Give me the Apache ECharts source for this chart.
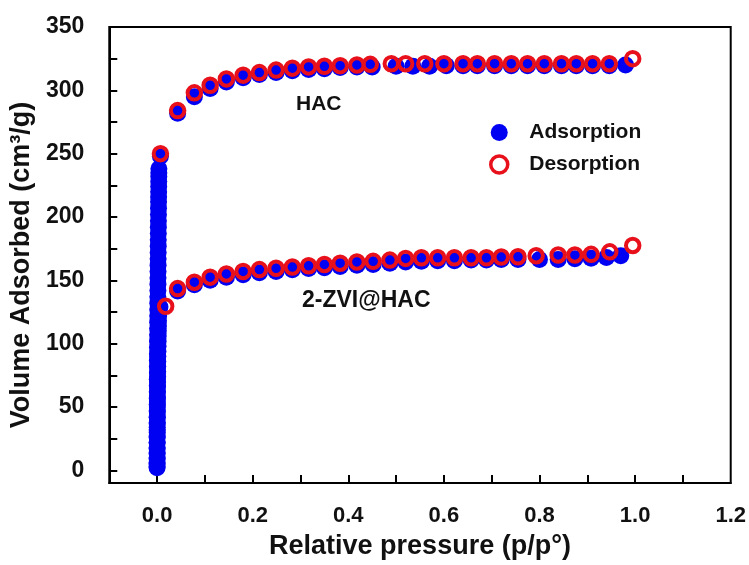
<!DOCTYPE html>
<html>
<head>
<meta charset="utf-8">
<script src="https://cdn.jsdelivr.net/npm/echarts@6/dist/echarts.min.js"></script>
<style>
html,body{margin:0;padding:0;background:#fff;}
#chart{width:749px;height:565px;}
</style>
</head>
<body>
<div id="chart"></div>
<script>
// ---- data ----
const xLabelValues = [0, 0.2, 0.4, 0.6, 0.8, 1.0, 1.2];
const xTickValues = [0, 0.1, 0.2, 0.3, 0.4, 0.5, 0.6, 0.7, 0.8, 0.9, 1.0, 1.1];
const yLabelValues = [0, 50, 100, 150, 200, 250, 300, 350];
const yTickValues = [0, 25, 50, 75, 100, 125, 150, 175, 200, 225, 250, 275, 300, 325];

// HAC adsorption (relative pressure, volume)
const hacAdsP = [0.0000,0.0000,0.0001,0.0001,0.0001,0.0001,0.0002,0.0002,0.0002,0.0003,0.0003,0.0003,0.0004,0.0004,0.0005,0.0005,0.0006,0.0006,0.0007,0.0007,0.0008,0.0009,0.0010,0.0011,0.0012,0.0013,0.0014,0.0015,0.0016,0.0017,0.0018,0.0019,0.0020,0.0021,0.0022,0.0023,0.0024,0.0025,0.0026,0.0027,0.0028,0.0029,0.0030,0.0031,0.0032,0.0033,0.0034,0.0035,0.0036,0.0037,0.0038,
  0.007,0.043,0.078,0.111,0.145,0.180,0.214,0.249,0.283,0.317,0.350,0.383,0.418,0.450,0.500,0.535,0.570,0.605,0.640,0.670,0.706,0.741,0.775,0.810,0.846,0.877,0.911,0.946,0.980];
const hacAdsV = [2,5,9,13,17,22,27,32,37,42,47,52,57,62,67,72,77,82,87,92,97,102,107,112,117,122,127,132,137,142,147,152,157,162,167,172,177,182,187,192,197,202,207,212,216,220,224,228,232,235,238,
  248,282,295,301.5,306.5,310,312.5,314,315.5,316.5,317,318,318.5,318.5,319,319,319,319.5,319.5,319.5,319.5,319.5,319.5,319.5,319.5,319.5,319.5,319.5,320];

// HAC desorption
const hacDesP = [0.995,0.946,0.911,0.877,0.846,0.810,0.775,0.741,0.706,0.670,0.640,0.600,0.560,0.520,0.490,0.446,0.418,0.383,0.350,0.317,0.283,0.249,0.214,0.180,0.145,0.111,0.078,0.043,0.007];
const hacDesV = [325,321,321,321,321,321,321,321,321,321,321,321,321,321,321,320.5,320,319.5,319,318.5,317.5,316,314,312,309,304,298,284,250];

// 2-ZVI@HAC adsorption
const zviAdsP = [0.0000,0.0000,0.0001,0.0001,0.0001,0.0002,0.0002,0.0003,0.0003,0.0004,0.0004,0.0005,0.0006,0.0007,0.0008,0.0009,0.0010,0.0011,0.0012,0.0013,0.0014,0.0015,0.0016,0.0018,0.0020,0.0022,0.0024,0.0026,0.0028,0.0030,0.0033,0.0036,
  0.006,0.043,0.078,0.111,0.145,0.180,0.214,0.249,0.283,0.317,0.350,0.383,0.418,0.452,0.487,0.520,0.553,0.587,0.622,0.657,0.689,0.720,0.755,0.800,0.839,0.874,0.908,0.940,0.970];
const zviAdsV = [3,6,10,14,18,22,26,30,34,38,42,46,50,54,58,62,66,70,74,78,82,86,90,94,98,102,106,110,114,118,122,126,
  129,141.5,146.5,150,152.5,154.5,156,157,158.3,159.3,160,161,162,162.5,163.5,164.5,165,165.5,165.5,166,166,166.5,166.5,166.5,166.5,167,167.5,168,169.5];

// 2-ZVI@HAC desorption
const zviDesP = [0.995,0.947,0.908,0.874,0.839,0.793,0.755,0.720,0.689,0.657,0.622,0.587,0.553,0.520,0.487,0.452,0.418,0.383,0.350,0.317,0.283,0.249,0.214,0.180,0.145,0.111,0.078,0.043,0.018];
const zviDesV = [177.5,172.5,170.5,170,170,169.4,168.6,168.4,167.8,167.8,167.8,167.8,167.8,167.3,166,165,164.5,163.5,162.5,161.5,160.5,159.5,158.5,157,155,152.5,148.5,143.5,129.5];

// ---- build ----
function pairs(p, v) {
  const out = [];
  const n = Math.min(p.length, v.length);
  for (let i = 0; i < n; i++) out.push([p[i], v[i]]);
  return out;
}

const FONT = "'Liberation Sans', Arial, Helvetica, sans-serif";
const BLUE = '#0000f2';
const RED = '#e8101a';
const TXT = '#111';

const adsStyle = { color: BLUE, opacity: 1 };
const desStyle = { color: 'rgba(255,255,255,0)', borderColor: RED, borderWidth: 4, opacity: 1 };

const chart = echarts.init(document.getElementById('chart'), null, { renderer: 'canvas' });
chart.setOption({
  animation: false,
  backgroundColor: '#fff',
  grid: { left: 108, right: 14, top: 27, bottom: 80, show: true, borderColor: '#000', borderWidth: 2, backgroundColor: 'transparent' },
  legend: {
    orient: 'vertical',
    left: 484, top: 117,
    itemWidth: 50, itemHeight: 17, itemGap: 11,
    symbolKeepAspect: true,
    textStyle: { fontFamily: FONT, fontWeight: 'bold', fontSize: 21, color: TXT, lineHeight: 20 },
    data: [
      { name: 'Adsorption', icon: 'circle', itemStyle: { color: BLUE, borderWidth: 0, opacity: 1 } },
      { name: 'Desorption', icon: 'circle', itemStyle: { color: '#fff', borderColor: RED, borderWidth: 3.5, opacity: 1 } }
    ]
  },
  xAxis: {
    type: 'value', min: -0.1, max: 1.2,
    name: 'Relative pressure (p/p\u00B0)', nameLocation: 'middle', nameGap: 50,
    nameTextStyle: { fontFamily: FONT, fontWeight: 'bold', fontSize: 27, color: TXT },
    axisLine: { onZero: false, lineStyle: { color: '#000', width: 2 } },
    axisTick: { inside: true, length: 8, lineStyle: { color: '#000', width: 2 }, customValues: xTickValues },
    axisLabel: { margin: 22, fontFamily: FONT, fontWeight: 'bold', fontSize: 22, color: TXT, customValues: xLabelValues,
      formatter: v => Number(v).toFixed(1) },
    splitLine: { show: false }
  },
  yAxis: {
    type: 'value', min: -10, max: 350,
    name: 'Volume Adsorbed (cm\u00B3/g)', nameLocation: 'middle', nameGap: 69, nameRotate: 90,
    nameTextStyle: { fontFamily: FONT, fontWeight: 'bold', fontSize: 27, color: TXT, padding: [0, 20, 0, 0] },
    axisLine: { onZero: false, lineStyle: { color: '#000', width: 2 } },
    axisTick: { inside: true, length: 8, lineStyle: { color: '#000', width: 2 }, customValues: yTickValues },
    axisLabel: { margin: 25, fontFamily: FONT, fontWeight: 'bold', fontSize: 23, color: TXT, customValues: yLabelValues },
    splitLine: { show: false }
  },
  graphic: [
    { type: 'text', left: 296, top: 94, style: { text: 'HAC', font: "bold 21px 'Liberation Sans', Arial, sans-serif", fill: TXT } },
    { type: 'text', left: 302, top: 289, style: { text: '2-ZVI@HAC', font: "bold 23px 'Liberation Sans', Arial, sans-serif", fill: TXT } }
  ],
  series: [
    { name: 'Adsorption', type: 'scatter', symbol: 'circle', symbolSize: 17, z: 2, itemStyle: adsStyle, data: pairs(hacAdsP, hacAdsV) },
    { name: 'Adsorption', type: 'scatter', symbol: 'circle', symbolSize: 17, z: 2, itemStyle: adsStyle, data: pairs(zviAdsP, zviAdsV) },
    { name: 'Desorption', type: 'scatter', symbol: 'circle', symbolSize: 13.5, z: 3, itemStyle: desStyle, data: pairs(hacDesP, hacDesV) },
    { name: 'Desorption', type: 'scatter', symbol: 'circle', symbolSize: 13.5, z: 3, itemStyle: desStyle, data: pairs(zviDesP, zviDesV) }
  ]
});
</script>
</body>
</html>
